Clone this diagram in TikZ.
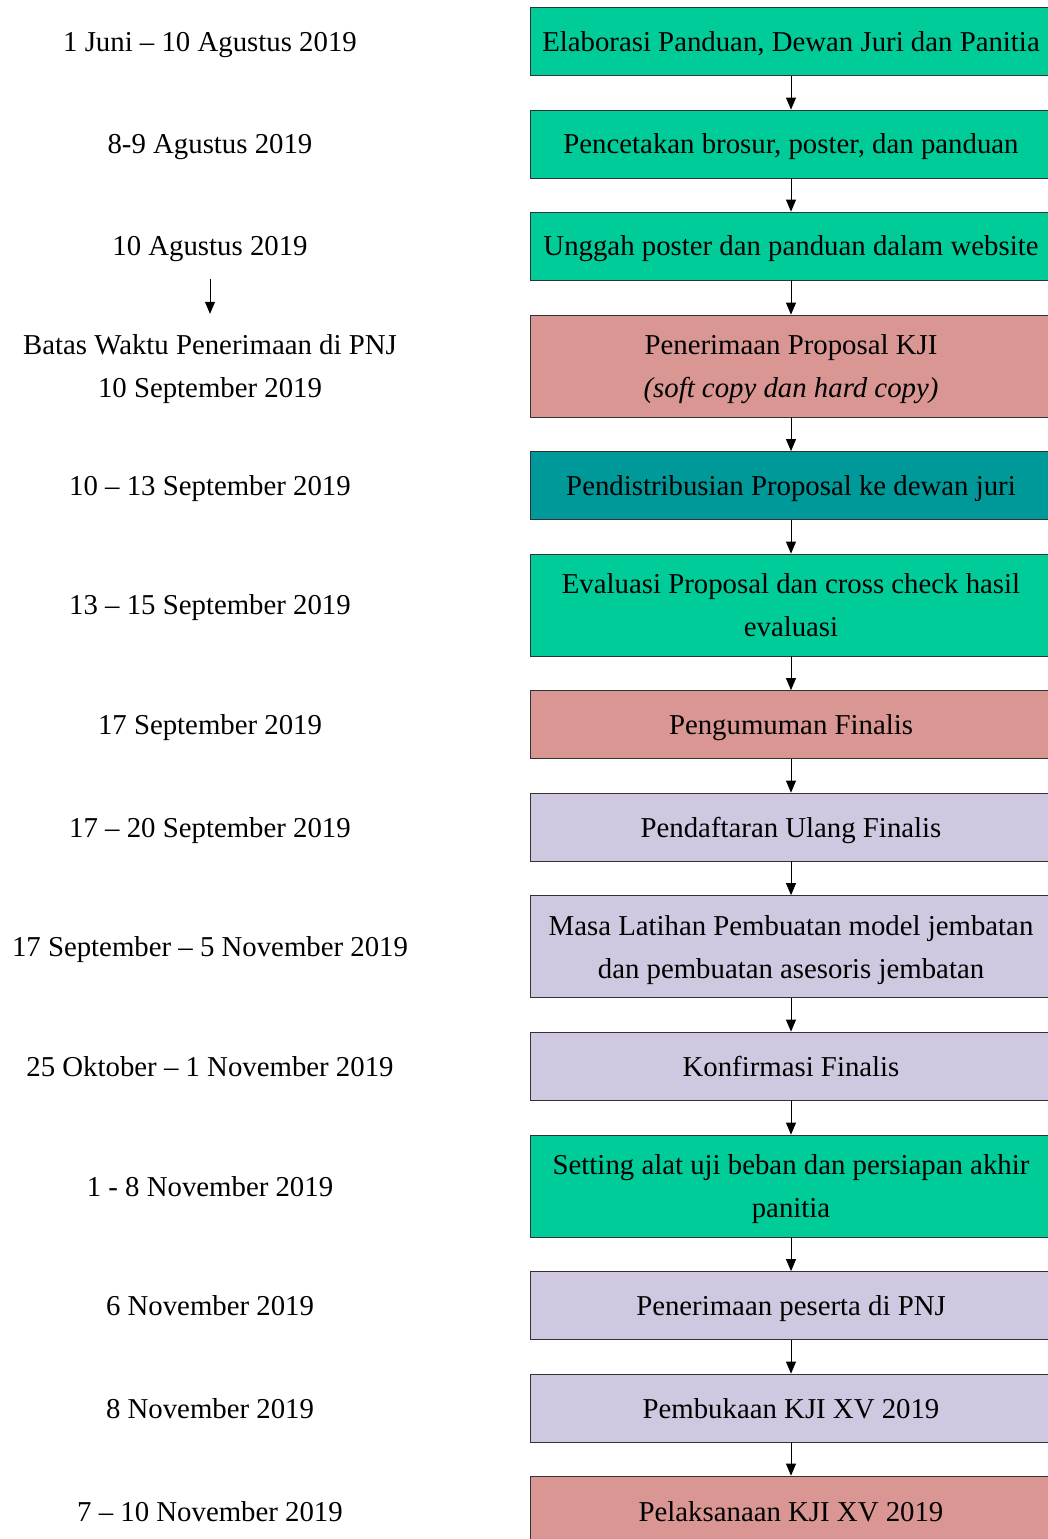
\documentclass[tikz,border=0pt]{standalone}
\usepackage{fontspec}
\setmainfont{Liberation Serif}
\usetikzlibrary{arrows.meta}
\definecolor{stgreen}{RGB}{0,204,153}
\definecolor{stpink}{RGB}{217,150,146}
\definecolor{stteal}{RGB}{0,153,153}
\definecolor{stlav}{RGB}{208,200,224}
\begin{document}
\begin{tikzpicture}[x=1pt,y=-1pt,
  font=\fontsize{28.8}{43}\selectfont,
  stage/.style={draw=black!80, line width=0.8pt, minimum width=522pt, inner sep=0pt,
    align=center, anchor=center, text depth=0pt},
  one/.style={stage, minimum height=68pt},
  two/.style={stage, minimum height=102pt},
  datelbl/.style={align=center, inner sep=0pt, anchor=center, text depth=0pt},
  flow/.style={-{Triangle[length=12pt,width=10pt]}, line width=0.8pt}]
\useasboundingbox (0,0) rectangle (1048,1539);
\begin{scope}
\clip (0,0) rectangle (1048,1539);
% process stages
\node[one, fill=stgreen] (s1) at (791,41.5) {Elaborasi Panduan, Dewan Juri dan Panitia};
\node[one, fill=stgreen] (s2) at (791,144) {Pencetakan brosur, poster, dan panduan};
\node[one, fill=stgreen] (s3) at (791,246) {Unggah poster dan panduan dalam website};
\node[two, fill=stpink] (s4) at (791,366) {Penerimaan Proposal KJI\\\textit{(soft copy dan hard copy)}};
\node[one, fill=stteal] (s5) at (791,485.5) {Pendistribusian Proposal ke dewan juri};
\node[two, fill=stgreen] (s6) at (791,605) {Evaluasi Proposal dan cross check hasil\\evaluasi};
\node[one, fill=stpink] (s7) at (791,724.5) {Pengumuman Finalis};
\node[one, fill=stlav] (s8) at (791,827) {Pendaftaran Ulang Finalis};
\node[two, fill=stlav] (s9) at (791,946.5) {Masa Latihan Pembuatan model jembatan\\dan pembuatan asesoris jembatan};
\node[one, fill=stlav] (s10) at (791,1066) {Konfirmasi Finalis};
\node[two, fill=stgreen] (s11) at (791,1186) {Setting alat uji beban dan persiapan akhir\\panitia};
\node[one, fill=stlav] (s12) at (791,1305.5) {Penerimaan peserta di PNJ};
\node[one, fill=stlav] (s13) at (791,1408) {Pembukaan KJI XV 2019};
\node[one, fill=stpink, minimum height=70pt] (s14) at (791,1511) {Pelaksanaan KJI XV 2019};
\end{scope}
\foreach \a/\b in {s1/s2,s2/s3,s3/s4,s4/s5,s5/s6,s6/s7,s7/s8,s8/s9,s9/s10,s10/s11,s11/s12,s12/s13,s13/s14}
  \draw[flow] (\a.south) -- (\b.north);
% schedule dates
\node[datelbl] (d1) at (210,41.5) {1 Juni -- 10 Agustus 2019};
\node[datelbl] (d2) at (210,144) {8-9 Agustus 2019};
\node[datelbl, minimum height=66pt] (d3) at (210,246) {10 Agustus 2019};
\node[datelbl, minimum height=104pt] (d4) at (210,366) {Batas Waktu Penerimaan di PNJ\\10 September 2019};
\node[datelbl] (d5) at (210,485.5) {10 -- 13 September 2019};
\node[datelbl] (d6) at (210,605) {13 -- 15 September 2019};
\node[datelbl] (d7) at (210,724.5) {17 September 2019};
\node[datelbl] (d8) at (210,827) {17 -- 20 September 2019};
\node[datelbl] (d9) at (210,946.5) {17 September -- 5 November 2019};
\node[datelbl] (d10) at (210,1066) {25 Oktober -- 1 November 2019};
\node[datelbl] (d11) at (210,1186) {1 - 8 November 2019};
\node[datelbl] (d12) at (210,1305.5) {6 November 2019};
\node[datelbl] (d13) at (210,1408) {8 November 2019};
\node[datelbl] (d14) at (210,1511) {7 -- 10 November 2019};
\draw[flow] (d3.south) -- (d4.north);
\end{tikzpicture}
\end{document}
